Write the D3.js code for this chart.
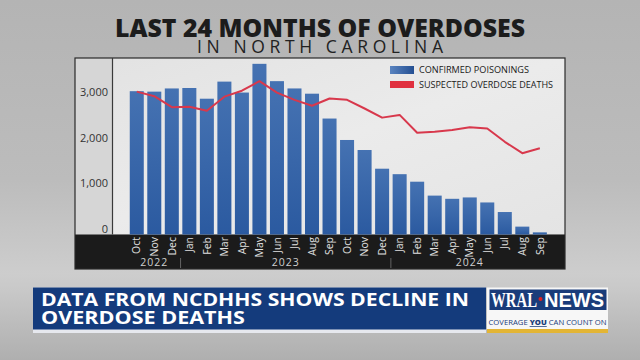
<!DOCTYPE html>
<html><head><meta charset="utf-8">
<script src="https://cdn.jsdelivr.net/npm/d3@7"></script>
<style>html,body{margin:0;padding:0;background:#b8b8b8;}svg{display:block;}</style>
</head><body>
<svg id="c" width="640" height="360"></svg>
<script>
const months = ["Oct","Nov","Dec","Jan","Feb","Mar","Apr","May","Jun","Jul","Aug","Sep",
                "Oct","Nov","Dec","Jan","Feb","Mar","Apr","May","Jun","Jul","Aug","Sep"];
const years = [{label:"2022", from:0, to:2},{label:"2023", from:3, to:14},{label:"2024", from:15, to:23}];
const confirmed = [3110,3100,3170,3180,2945,3320,3080,3710,3330,3170,3055,2510,
                   2040,1820,1410,1290,1125,820,750,780,670,460,140,15];
const suspected = [3100,3000,2760,2770,2680,2990,3120,3330,3080,2920,2790,2950,
                   2920,2730,2530,2590,2200,2220,2260,2320,2290,2000,1750,1860];
const yTicks = [0,1000,2000,3000];
const legendLabels = ["CONFIRMED POISONINGS","SUSPECTED OVERDOSE DEATHS"];

const svg = d3.select("#c");
const defs = svg.append("defs");
const bg = defs.append("linearGradient").attr("id","bg").attr("x1",0).attr("y1",0).attr("x2",0).attr("y2",1);
[[0,"#b4b4b4"],[0.5,"#bcbcbc"],[0.76,"#cdcdcd"],[0.8,"#c9c9c9"],[1,"#afafaf"]].forEach(s=>bg.append("stop").attr("offset",s[0]).attr("stop-color",s[1]));
const bar = defs.append("linearGradient").attr("id","bar").attr("x1",0).attr("y1",0).attr("x2",0).attr("y2",1);
bar.append("stop").attr("offset",0).attr("stop-color","#4572b2");
bar.append("stop").attr("offset",1).attr("stop-color","#2b5aa0");
const sw = defs.append("linearGradient").attr("id","sw").attr("x1",0).attr("y1",0).attr("x2",1).attr("y2",0);
sw.append("stop").attr("offset",0).attr("stop-color","#5a84c0");
sw.append("stop").attr("offset",1).attr("stop-color","#244f92");
const pn = defs.append("linearGradient").attr("id","pn").attr("x1",0).attr("y1",0).attr("x2",1).attr("y2",1);
pn.append("stop").attr("offset",0).attr("stop-color","#e2e2e2");
pn.append("stop").attr("offset",0.5).attr("stop-color","#ebebeb");
pn.append("stop").attr("offset",1).attr("stop-color","#e4e4e4");

svg.append("rect").attr("width",640).attr("height",360).attr("fill","url(#bg)");

// Title
svg.append("text").attr("x",115).attr("y",36.5).attr("textLength",410).attr("lengthAdjust","spacingAndGlyphs")
  .attr("font-family","Open Sans").attr("font-weight",800).attr("font-size",25).attr("fill","#1c1c1c")
  .text("LAST 24 MONTHS OF OVERDOSES");
svg.append("text").attr("x",197).attr("y",53.3).attr("textLength",246).attr("lengthAdjust","spacing")
  .attr("font-family","Open Sans").attr("font-weight",400).attr("font-size",17.5).attr("fill","#222")
  .text("IN NORTH CAROLINA");

// Panel
const P = {l:75, t:58, r:565, b:234.5, bandB:269};
svg.append("rect").attr("x",P.l).attr("y",P.t).attr("width",P.r-P.l).attr("height",P.b-P.t).attr("fill","url(#pn)");
svg.append("rect").attr("x",P.l).attr("y",P.t).attr("width",112.5-P.l).attr("height",P.b-P.t).attr("fill","#d6d6d6");
svg.append("rect").attr("x",P.l).attr("y",P.b).attr("width",P.r-P.l).attr("height",P.bandB-P.b).attr("fill","#1b1b1b");

const x = d3.scaleBand().domain(d3.range(months.length)).range([128,548.6]).paddingInner(0.2).paddingOuter(0.1);
const y = d3.scaleLinear().domain([0,3800]).range([233,233-3800*0.0456]);

// y axis labels
const yAxis = d3.axisLeft(y).tickValues(yTicks).tickFormat(d3.format(",")).tickSize(0).tickPadding(0);
const ga = svg.append("g").attr("transform","translate(108,0)").call(yAxis);
ga.select(".domain").remove();
ga.selectAll("text").attr("font-family","Open Sans").attr("font-size",11).attr("fill","#333").attr("dy","-0.05em");

// bars
svg.append("g").selectAll("rect").data(confirmed).join("rect")
  .attr("x",(d,i)=>x(i)).attr("width",x.bandwidth())
  .attr("y",d=>y(d)).attr("height",d=>P.b-y(d)).attr("fill","url(#bar)");

// line
const line = d3.line().x((d,i)=>x(i)+x.bandwidth()/2).y(d=>y(d));
svg.append("path").datum(suspected).attr("d",line).attr("fill","none").attr("stroke","#d8384c").attr("stroke-width",2).attr("stroke-linejoin","round");

// frame
svg.append("rect").attr("x",P.l).attr("y",P.t).attr("width",P.r-P.l).attr("height",P.bandB-P.t).attr("fill","none").attr("stroke","#2a2a2a").attr("stroke-width",1.2);
svg.append("line").attr("x1",112.5).attr("x2",112.5).attr("y1",P.t).attr("y2",P.b).attr("stroke","#3a3a3a").attr("stroke-width",1.2);

// month labels
const xa = d3.axisBottom(x).tickFormat(i=>months[i]).tickSize(0);
const gx = svg.append("g").attr("transform",`translate(0,${P.b})`).call(xa);
gx.select(".domain").remove();
gx.selectAll("text").attr("font-family","Open Sans").attr("font-size",10.5).attr("fill","#e0e0e0")
  .attr("text-anchor","end").attr("transform","rotate(-90)").attr("x",-2.5).attr("y",0).attr("dy","0.35em");

// years
const step = x.step();
years.forEach((yr,k)=>{
  const a = k===0 ? x.range()[0] : x(yr.from)+x.bandwidth()/2-step/2;
  const b = k===years.length-1 ? x.range()[1] : x(yr.to)+x.bandwidth()/2+step/2;
  svg.append("text").attr("x",(a+b)/2).attr("y",266).attr("text-anchor","middle")
    .attr("font-family","Open Sans").attr("font-size",10.5).attr("letter-spacing",1).attr("fill","#cfcfcf").text(yr.label);
  if(k>0) svg.append("line").attr("x1",a).attr("x2",a).attr("y1",258).attr("y2",268).attr("stroke","#777").attr("stroke-width",0.8);
});

// legend
const lg = svg.append("g");
lg.append("rect").attr("x",390).attr("y",66).attr("width",24).attr("height",8).attr("fill","url(#sw)");
lg.append("rect").attr("x",390).attr("y",81).attr("width",24).attr("height",7).attr("fill","#e0303f");
[[legendLabels[0],73.3,110],[legendLabels[1],87.5,134]].forEach(t=>{
  lg.append("text").attr("x",419).attr("y",t[1]).attr("textLength",t[2]).attr("lengthAdjust","spacingAndGlyphs")
    .attr("font-family","Open Sans").attr("font-size",9).attr("fill","#1a1a1a").text(t[0]);
});

// banner
svg.append("rect").attr("x",33).attr("y",287.5).attr("width",453).attr("height",45.5).attr("fill","#e6e8ee");
svg.append("rect").attr("x",33).attr("y",287.5).attr("width",453).attr("height",42).attr("fill","#143b7c");
svg.append("text").attr("x",41).attr("y",306).attr("textLength",428).attr("lengthAdjust","spacingAndGlyphs")
  .attr("font-family","Open Sans").attr("font-weight",700).attr("font-size",18).attr("fill","#fff").text("DATA FROM NCDHHS SHOWS DECLINE IN");
svg.append("text").attr("x",41).attr("y",323.5).attr("textLength",204).attr("lengthAdjust","spacingAndGlyphs")
  .attr("font-family","Open Sans").attr("font-weight",700).attr("font-size",18).attr("fill","#fff").text("OVERDOSE DEATHS");

// logo
svg.append("rect").attr("x",487).attr("y",287.5).attr("width",121).attr("height",45.5).attr("fill","#f7f7f7");
svg.append("rect").attr("x",489.5).attr("y",289.5).attr("width",117).attr("height",20.5).attr("fill","#1a3c7a");
svg.append("text").attr("transform","translate(491,307) scale(0.74,1)")
  .attr("font-family","Liberation Serif").attr("font-weight",700).attr("font-size",20).attr("fill","#fff").text("WRAL");
svg.append("circle").attr("cx",540.5).attr("cy",299).attr("r",2).attr("fill","#d22");
svg.append("text").attr("x",544).attr("y",307).attr("textLength",60).attr("lengthAdjust","spacingAndGlyphs")
  .attr("font-family","Liberation Sans").attr("font-weight",700).attr("font-size",20).attr("fill","#fff").text("NEWS");
const tag = svg.append("text").attr("x",488.5).attr("y",325).attr("textLength",118).attr("lengthAdjust","spacingAndGlyphs")
  .attr("font-family","Open Sans").attr("font-size",7.5).attr("fill","#1a3c7a");
tag.append("tspan").text("COVERAGE ");
tag.append("tspan").attr("font-weight",800).attr("text-decoration","underline").text("YOU");
tag.append("tspan").text(" CAN COUNT ON");
svg.append("rect").attr("x",487).attr("y",329).attr("width",121).attr("height",4).attr("fill","#e3b535");
</script>
</body></html>
